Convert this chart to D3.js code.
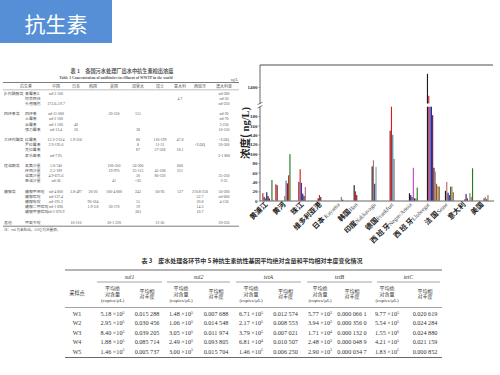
<!DOCTYPE html>
<html lang="zh">
<head>
<meta charset="UTF-8">
<title>抗生素</title>
<script src="https://d3js.org/d3.v7.min.js"></script>
<style>
    body { margin: 0; background: #fff; }
    svg { display: block; }
    .cn { font-family: "Noto Sans CJK SC", sans-serif; }
    .serif { font-family: "Liberation Serif", "DejaVu Serif", serif; }
</style>
</head>
<body>
<svg width="500" height="375"></svg>
<script>
// ---------- bar chart data ----------
const siteCn = ["黄浦江", "黄河", "珠江", "维多利亚港", "日本", "韩国", "印度", "德国", "西 班 牙", "西 班 牙", "法 国", "意大利", "美国"];
const siteEn = ["", "", "", "", " Kayama", "Han", "Nakkavagu", "Frankfurt", "Negre/Anoia", "Llobregat", "Seine", "", ""];

// one row per site, one column per antibiotic slot (ng/L)
const barValues = [
    [0, 16, 8, 5, 18, 10, 5, 0, 44, 2, 0, 35, 33, 0],
    [0, 0, 0, 0, 10, 43, 37, 54, 99, 0, 0, 0, 0, 0],
    [0, 40, 67, 38, 15, 10, 29, 0, 0, 0, 0, 0, 0, 0],
    [0, 0, 5, 12, 8, 0, 0, 0, 0, 0, 0, 0, 0, 0],
    [0, 0, 0, 0, 0, 0, 8, 2, 0, 0, 0, 0, 0, 0],
    [0, 0, 33, 20, 12, 0, 0, 0, 0, 0, 0, 0, 0, 0],
    [0, 0, 73, 86, 36, 72, 0, 0, 0, 0, 0, 0, 0, 0],
    [0, 0, 149, 210, 140, 89, 0, 0, 0, 0, 0, 0, 0, 0],
    [0, 0, 0, 16, 12, 8, 70, 5, 5, 28, 0, 0, 0, 0],
    [0, 0, 0, 1520, 1320, 250, 230, 182, 70, 62, 36, 31, 30, 0],
    [0, 0, 0, 21, 40, 17, 12, 30, 30, 18, 0, 0, 0, 0],
    [0, 0, 0, 0, 3, 14, 5, 0, 16, 8, 69, 0, 0, 0],
    [0, 0, 0, 0, 0, 5, 8, 3, 12, 0, 0, 0, 0, 0]
];
const barColors = [
    ".rpwnkd.gy.rd.",
    "....ovdrg.....",
    ".drbnks.......",
    "..krd.........",
    "......ok......",
    "..krd.........",
    "..ksnc........",
    "..drtl........",
    "...knpmkog....",
    "...krbnpksweq.",
    "...ksnbqow....",
    "....rnp.osg...",
    ".....dsko....."
];
const palette = {
    k: "#1c1c1c", r: "#d11f1f", d: "#7d1022", n: "#1c1c7e", b: "#2636c8",
    p: "#5b1a5e", m: "#c545c8", s: "#b07272", g: "#257a2a", o: "#86843f",
    t: "#3b8b8b", y: "#909090", w: "#8a5a2e", e: "#e8891c", v: "#6673a3",
    c: "#86a2a2", l: "#7d6a96", q: "#4e4d22"
};
const lowTicks = [0, 20, 40, 60, 80, 100, 120, 140, 160, 180];
const highTicks = [1400];

// ---------- table 1 data ----------
const t1Countries = ["中国", "日本", "韩国", "英国", "加拿大", "瑞士", "意大利", "西班牙", "澳大利亚"];
const t1Classes = ["β-内酰胺类", "四环素类", "大环内酯类", "喹诺酮类", "磺胺类", "其他"];
const t1Rows = [
    [0, "青霉素G", "nd-2 160", "", "", "", "", "", "", "", "nd-300"],
    [0, "阿莫西林", "", "", "", "", "", "", "4.7", "", "nd-50"],
    [0, "头孢噻肟", "173.6±19.7", "", "", "", "", "", "", "", "nd-250"],
    [1, "四环素", "nd-11 000", "", "", "20-150", "151", "", "", "", "nd-20"],
    [1, "土霉素", "nd-2 100", "", "", "", "", "", "", "", "nd-70"],
    [1, "金霉素", "nd-1 100", "40", "", "", "", "", "", "", "3-250"],
    [1, "强力霉素", "nd-13.4", "30", "", "", "38", "", "", "", "10-150"],
    [2, "红霉素", "12.3-2 014", "1.9-256", "", "", "80", "110-199", "47.8", "", "<LOQ"],
    [2, "罗红霉素", "2.9-195.6", "", "", "", "8", "11-31", "", "<LOQ", "20-300"],
    [2, "克拉霉素", "", "", "", "", "87", "57-328", "18.1", "", ""],
    [2, "泰乐菌素", "nd-7.95", "", "", "", "", "", "", "", "3-1 800"],
    [3, "氧氟沙星", "1.6-740", "", "", "100-350", "56-206", "", "600", "", ""],
    [3, "环丙沙星", "2.5-199", "", "", "19-970", "25-115", "45-108", "251", "", ""],
    [3, "诺氟沙星", "4.9-675.6", "", "", "", "30", "80-120", "", "", "25-250"],
    [3, "恩诺沙星", "nd-36", "", "", "41", "<65", "", "", "", "2-25"],
    [4, "磺胺甲恶唑", "nd-4 000", "3.8-497", "20-20", "100-4 000", "243", "60-93", "127", "210.8-250", "50-200"],
    [4, "磺胺嘧啶", "nd-137.4", "", "", "", "", "", "", "52.7", "nd-600"],
    [4, "磺胺吡啶", "nd-191.2", "", "90-164", "", "15", "", "", "20.8", "4-150"],
    [4, "磺胺二甲嘧啶", "nd-1 096", "", "1.9-3.8", "30-170", "19", "", "", "14.3", ""],
    [4, "磺胺甲基嘧啶", "nd-2 070.9", "", "", "", "363", "", "", "10.7", ""],
    [5, "甲氧苄啶", "", "10-110", "", "30-1 220", "", "21-65", "", "", "20-250"]
];

// ---------- table 3 data ----------
const t3Sites = ["W1", "W2", "W3", "W4", "W5"];
const t3Genes = ["sul1", "sul2", "tetA", "tetB", "tetC"];
const sul1Abs = [5.18e5, 2.95e5, 8.40e5, 1.88e5, 1.46e5];
const sul1Rel = [0.015288, 0.030456, 0.039205, 0.085714, 0.005737];
const sul2Abs = [1.48e5, 1.06e5, 3.05e5, 2.49e5, 3.00e5];
const sul2Rel = [0.007688, 0.014548, 0.011974, 0.093805, 0.015704];
const tetAAbs = [6.71e5, 2.17e5, 3.79e5, 6.81e4, 1.46e5];
const tetARel = [0.012574, 0.008553, 0.007021, 0.010507, 0.006250];
const tetBAbs = [5.77e3, 3.94e3, 1.71e4, 2.48e3, 2.90e3];
const tetBRel = [0.0000661, 0.0003560, 0.0001320, 0.0000489, 0.0000347];
const tetCAbs = [9.77e5, 5.54e5, 1.55e6, 4.21e5, 1.83e5];
const tetCRel = [0.020619, 0.024284, 0.024880, 0.021159, 0.000852];

const svg = d3.select("svg");

// ---------- slide title ----------
svg.append("rect")
    .attr("x", 0).attr("y", 0)
    .attr("width", 112).attr("height", 43)
    .attr("fill", "#568fd6");
svg.append("text")
    .attr("class", "cn")
    .attr("x", 56).attr("y", 32)
    .attr("text-anchor", "middle")
    .attr("font-size", 21)
    .attr("fill", "#fff")
    .text("抗生素");

// ---------- table 1 ----------
const t1 = svg.append("g").attr("class", "cn").attr("fill", "#555");
const t1ColX = [56, 76, 93, 114, 138, 160, 180, 200, 224];

t1.append("text").attr("x", 122).attr("y", 73).attr("text-anchor", "middle")
    .attr("font-size", 5.2).attr("font-weight", "bold").text("表 1　各国污水处理厂出水中抗生素检出浓度");
t1.append("text").attr("class", "serif").attr("x", 116).attr("y", 78.5).attr("text-anchor", "middle")
    .attr("font-size", 3.8).attr("font-weight", "bold")
    .text("Table 1   Concentration of antibiotics in effluent of WWTP in the world");
t1.append("text").attr("class", "serif").attr("x", 238).attr("y", 80.5).attr("text-anchor", "end")
    .attr("font-size", 3.8).text("ng/L");

const rule = (g, x1, x2, y, w) => g.append("line")
    .attr("x1", x1).attr("x2", x2).attr("y1", y).attr("y2", y)
    .attr("stroke", "#444").attr("stroke-width", w);

rule(t1, 3, 239, 82.5, 0.7);
rule(t1, 3, 239, 89.8, 0.35);

t1.append("text").attr("x", 26).attr("y", 88).attr("text-anchor", "middle")
    .attr("font-size", 4).text("抗生素");
t1.selectAll(".hdr").data(t1Countries).join("text")
    .attr("x", (d, i) => t1ColX[i]).attr("y", 88)
    .attr("text-anchor", "middle").attr("font-size", 4).text(d => d);

let rowY = 94.5;
let lastClass = -1;
t1Rows.forEach(r => {
    if (r[0] !== lastClass) {
        if (lastClass !== -1) rowY += 5;
        t1.append("text").attr("x", 4).attr("y", rowY).attr("font-size", 3.9).text(t1Classes[r[0]]);
        lastClass = r[0];
    }
    t1.append("text").attr("x", 25).attr("y", rowY).attr("font-size", 3.9).text(r[1]);
    r.slice(2).forEach((v, i) => {
        if (!v) return;
        t1.append("text").attr("class", "serif")
            .attr("x", t1ColX[i]).attr("y", rowY)
            .attr("text-anchor", "middle").attr("font-size", 3.9).text(v);
    });
    rowY += 5.2;
});
rule(t1, 3, 239, rowY - 2.5, 0.7);
t1.append("text").attr("x", 4).attr("y", rowY + 2)
    .attr("font-size", 3.6).text("注：nd 为未检出，LOQ 为定量限。");

// ---------- bar chart ----------
const x = d3.scaleBand().domain(d3.range(siteCn.length)).range([261, 495]);
const slot = d3.scaleBand().domain(d3.range(14)).range([0, x.bandwidth()]).paddingInner(0.12);
const yLow = d3.scaleLinear().domain([0, 200]).range([200.7, 106.7]);
const yHigh = d3.scaleLinear().domain([1250, 1600]).range([103.5, 65]);

const bars = [];
barValues.forEach((row, i) => row.forEach((v, j) => {
    if (v > 0) bars.push({ i, j, v, c: palette[barColors[i][j]] });
}));

const chart = svg.append("g");
chart.selectAll(".bar").data(bars).join("rect")
    .attr("class", "bar")
    .attr("x", d => x(d.i) + slot(d.j))
    .attr("y", d => yLow(Math.min(d.v, 200)))
    .attr("width", slot.bandwidth())
    .attr("height", d => yLow(0) - yLow(Math.min(d.v, 200)))
    .attr("fill", d => d.c);
chart.selectAll(".barHigh").data(bars.filter(d => d.v > 1250)).join("rect")
    .attr("class", "barHigh")
    .attr("x", d => x(d.i) + slot(d.j))
    .attr("y", d => yHigh(d.v))
    .attr("width", slot.bandwidth())
    .attr("height", d => yHigh(1250) - yHigh(d.v))
    .attr("fill", d => d.c);

// frame
chart.append("line").attr("x1", 260).attr("x2", 493).attr("y1", 65).attr("y2", 65)
    .attr("stroke", "#888").attr("stroke-width", 1.4);
chart.append("line").attr("x1", 260).attr("x2", 260).attr("y1", 65).attr("y2", 201)
    .attr("stroke", "#555").attr("stroke-width", 0.9);
chart.append("line").attr("x1", 260).attr("x2", 494).attr("y1", 201).attr("y2", 201)
    .attr("stroke", "#555").attr("stroke-width", 0.9);
// axis break
chart.append("rect").attr("x", 258).attr("y", 103.6).attr("width", 4).attr("height", 3)
    .attr("fill", "#fff");
[103.4, 106.8].forEach(yy => chart.append("line")
    .attr("x1", 257.5).attr("x2", 262.5).attr("y1", yy + 1.2).attr("y2", yy - 1.2)
    .attr("stroke", "#333").attr("stroke-width", 0.6));

const axLow = chart.append("g").attr("transform", "translate(260,0)")
    .call(d3.axisLeft(yLow).tickValues(lowTicks).tickSize(1.5).tickPadding(1).tickFormat(d3.format("d")));
const axHigh = chart.append("g").attr("transform", "translate(260,0)")
    .call(d3.axisLeft(yHigh).tickValues(highTicks).tickSize(1.5).tickPadding(1).tickFormat(d3.format("d")));
[axLow, axHigh].forEach(a => {
    a.select(".domain").remove();
    a.selectAll("line").attr("stroke", "#444").attr("stroke-width", 0.5);
    a.selectAll("text")
        .attr("font-family", "Liberation Serif, serif")
        .attr("font-weight", "bold")
        .attr("font-size", 5)
        .attr("fill", "#333");
});

// y title
const yt = chart.append("text")
    .attr("class", "cn")
    .attr("transform", "translate(249,133) rotate(-90)")
    .attr("text-anchor", "middle")
    .attr("font-size", 10.5)
    .attr("font-weight", "bold")
    .attr("fill", "#222");
yt.append("tspan").text("浓度(");
yt.append("tspan").attr("class", "serif").text(" ng/L)");

// x labels, rotated 45 degrees under the axis
const xl = chart.selectAll(".xl").data(siteCn).join("text")
    .attr("class", "xl cn")
    .attr("transform", (d, i) => `translate(${x(i) + x.bandwidth() / 2 - 2},205) rotate(-45)`)
    .attr("text-anchor", "end")
    .attr("fill", "#222");
xl.append("tspan").attr("font-size", 7.2).attr("font-weight", "bold").text(d => d);
xl.append("tspan").attr("class", "serif").attr("font-size", 5.8).attr("fill", "#444")
    .text((d, i) => siteEn[i]);

// ---------- table 3 ----------
const t3 = svg.append("g").attr("fill", "#333");
const t3ColX = [112.5, 147, 181, 216, 251, 285.5, 320, 352, 387, 425];
const geneSpan = [[97, 162], [167, 230], [236, 301], [307, 372], [377, 440]];
const absCols = [sul1Abs, sul2Abs, tetAAbs, tetBAbs, tetCAbs];
const relCols = [sul1Rel, sul2Rel, tetARel, tetBRel, tetCRel];
const relDigits = [6, 6, 6, 7, 6];

t3.append("text").attr("class", "cn")
    .attr("x", 252).attr("y", 263).attr("text-anchor", "middle")
    .attr("font-size", 6).attr("font-weight", "bold")
    .text("表 3　废水处理各环节中 5 种抗生素抗性基因平均绝对含量和平均相对丰度变化情况");

rule(t3, 65, 442, 270, 0.8);
rule(t3, 65, 442, 307.5, 0.5);
rule(t3, 65, 442, 357.5, 0.8);

t3Genes.forEach((gname, k) => {
    t3.append("text").attr("class", "serif")
        .attr("x", (geneSpan[k][0] + geneSpan[k][1]) / 2).attr("y", 279)
        .attr("text-anchor", "middle").attr("font-size", 5.8).attr("font-style", "italic")
        .text(gname);
    rule(t3, geneSpan[k][0], geneSpan[k][1], 282, 0.5);
    const ca = t3ColX[k * 2], cr = t3ColX[k * 2 + 1];
    ["平均绝", "对含量"].forEach((s, m) => t3.append("text").attr("class", "cn")
        .attr("x", ca).attr("y", 290 + m * 5.5).attr("text-anchor", "middle")
        .attr("font-size", 5).text(s));
    t3.append("text").attr("class", "serif")
        .attr("x", ca).attr("y", 301.5).attr("text-anchor", "middle")
        .attr("font-size", 5).text("(copies/μL)");
    ["平均相", "对丰度"].forEach((s, m) => t3.append("text").attr("class", "cn")
        .attr("x", cr).attr("y", 292.5 + m * 5.5).attr("text-anchor", "middle")
        .attr("font-size", 5).text(s));
});
t3.append("text").attr("class", "cn")
    .attr("x", 77).attr("y", 295).attr("text-anchor", "middle")
    .attr("font-size", 5.2).text("采样点");

const fmtRel = (v, dg) => {
    const s = v.toFixed(dg).split(".");
    return s[0] + "." + s[1].match(/.{1,3}/g).join(" ");
};

t3Sites.forEach((site, r) => {
    const yy = 316 + r * 9.4;
    t3.append("text").attr("class", "serif")
        .attr("x", 77).attr("y", yy).attr("text-anchor", "middle")
        .attr("font-size", 6).text(site);
    absCols.forEach((col, k) => {
        const v = col[r];
        const e = Math.floor(Math.log10(v));
        const mant = (v / Math.pow(10, e)).toFixed(2);
        const tx = t3.append("text").attr("class", "serif")
            .attr("x", t3ColX[k * 2]).attr("y", yy).attr("text-anchor", "middle")
            .attr("font-size", 6.2);
        tx.append("tspan").text(mant + " ×10");
        tx.append("tspan").attr("font-size", 4).attr("dy", -2.3).text(e);
        t3.append("text").attr("class", "serif")
            .attr("x", t3ColX[k * 2 + 1]).attr("y", yy).attr("text-anchor", "middle")
            .attr("font-size", 6.2).text(fmtRel(relCols[k][r], relDigits[k]));
    });
});
</script>
</body>
</html>
